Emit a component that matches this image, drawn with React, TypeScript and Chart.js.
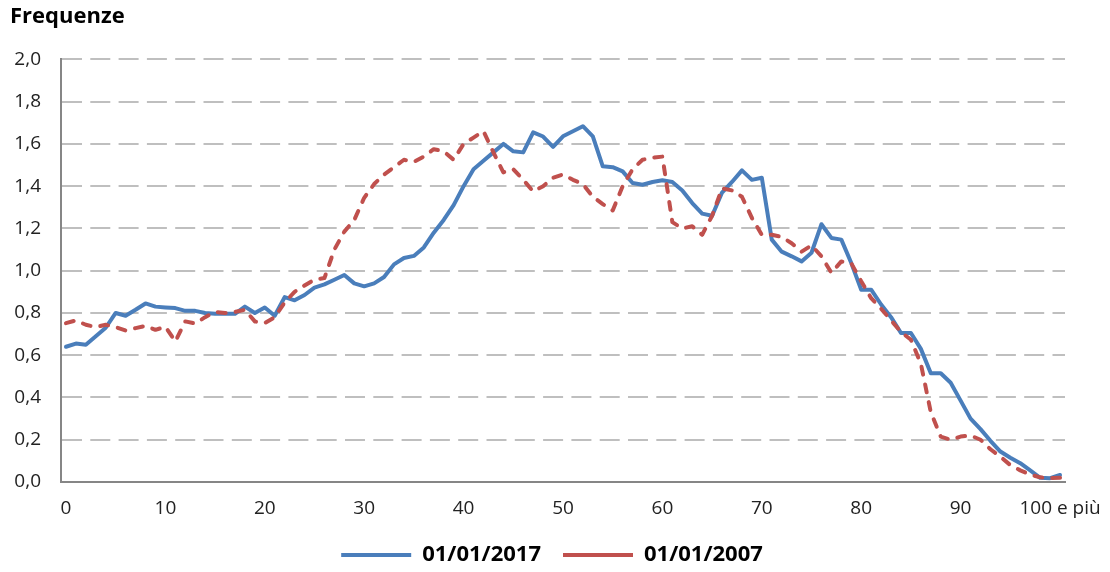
import React, { useEffect, useRef } from 'react';
import { Chart, registerables } from 'chart.js';

Chart.register(...registerables);

const titleText = 'Frequenze';
const seriesLabels = ['01/01/2017', '01/01/2007'];

const ages = [
  '0', '1', '2', '3', '4', '5', '6', '7', '8', '9',
  '10', '11', '12', '13', '14', '15', '16', '17', '18', '19',
  '20', '21', '22', '23', '24', '25', '26', '27', '28', '29',
  '30', '31', '32', '33', '34', '35', '36', '37', '38', '39',
  '40', '41', '42', '43', '44', '45', '46', '47', '48', '49',
  '50', '51', '52', '53', '54', '55', '56', '57', '58', '59',
  '60', '61', '62', '63', '64', '65', '66', '67', '68', '69',
  '70', '71', '72', '73', '74', '75', '76', '77', '78', '79',
  '80', '81', '82', '83', '84', '85', '86', '87', '88', '89',
  '90', '91', '92', '93', '94', '95', '96', '97', '98', '99',
  '100 e più',
];

const freq2017 = [
  0.64, 0.655, 0.65, 0.69, 0.73, 0.80, 0.787, 0.815, 0.845, 0.83,
  0.826, 0.823, 0.81, 0.81, 0.80, 0.796, 0.796, 0.796, 0.83, 0.80,
  0.826, 0.787, 0.875, 0.86, 0.885, 0.92, 0.935, 0.957, 0.98, 0.94,
  0.926, 0.94, 0.97, 1.03, 1.06, 1.07, 1.11, 1.18, 1.24, 1.31,
  1.40, 1.48, 1.52, 1.56, 1.60, 1.565, 1.56, 1.655, 1.635, 1.586,
  1.636, 1.66, 1.684, 1.636, 1.494, 1.49, 1.47, 1.415, 1.407, 1.42,
  1.428, 1.42, 1.38, 1.32, 1.27, 1.26, 1.37, 1.42, 1.475, 1.43,
  1.44, 1.147, 1.09, 1.068, 1.044, 1.085, 1.22, 1.155, 1.147, 1.036,
  0.91, 0.91, 0.84, 0.78, 0.705, 0.705, 0.63, 0.515, 0.515, 0.47,
  0.385, 0.30, 0.25, 0.195, 0.144, 0.115, 0.089, 0.055, 0.02, 0.018,
  0.033,
];

const freq2007 = [
  0.752, 0.765, 0.744, 0.733, 0.744, 0.733, 0.717, 0.728, 0.739, 0.72,
  0.735, 0.665, 0.76, 0.75, 0.78, 0.805, 0.80, 0.805, 0.815, 0.76,
  0.752, 0.78, 0.85, 0.90, 0.93, 0.958, 0.965, 1.10, 1.185, 1.24,
  1.345, 1.41, 1.455, 1.49, 1.525, 1.515, 1.54, 1.575, 1.565, 1.525,
  1.60, 1.63, 1.66, 1.56, 1.465, 1.48, 1.43, 1.375, 1.40, 1.44,
  1.455, 1.43, 1.41, 1.35, 1.315, 1.285, 1.40, 1.48, 1.525, 1.535,
  1.54, 1.23, 1.20, 1.21, 1.17, 1.26, 1.39, 1.38, 1.35, 1.25,
  1.17, 1.17, 1.16, 1.13, 1.09, 1.12, 1.068, 0.99, 1.044, 1.035,
  0.95, 0.87, 0.82, 0.765, 0.71, 0.673, 0.56, 0.33, 0.215, 0.20,
  0.215, 0.22, 0.20, 0.155, 0.12, 0.08, 0.055, 0.035, 0.022, 0.018,
  0.02,
];

const yMin = 0;
const yMax = 2;
const yStep = 0.2;
const xLabelEvery = 10;

const FONT = "'Open Sans', sans-serif";
const CANVAS_W = 1110;
const CANVAS_H = 572;
const PLOT_BOTTOM = 482;
const PAD_BOTTOM = -4;

export default function App() {
  const ref = useRef<HTMLCanvasElement>(null);

  useEffect(() => {
    if (!ref.current) return;
    const chart = new Chart(ref.current, {
      type: 'line',
      data: {
        labels: ages,
        datasets: [
          {
            label: seriesLabels[0],
            data: freq2017,
            borderColor: '#4A7EBB',
            backgroundColor: '#4A7EBB',
            borderWidth: 4,
            borderJoinStyle: 'round',
            borderCapStyle: 'round',
            pointRadius: 0,
            tension: 0,
            order: 1,
          },
          {
            label: seriesLabels[1],
            data: freq2007,
            borderColor: '#C0504D',
            backgroundColor: '#C0504D',
            borderWidth: 4,
            borderDash: [8, 10],
            borderJoinStyle: 'round',
            borderCapStyle: 'round',
            pointRadius: 0,
            tension: 0,
            order: 0,
          },
        ],
      },
      options: {
        responsive: false,
        animation: false,
        events: [],
        layout: { padding: { left: 10, right: 16, top: 0, bottom: PAD_BOTTOM } },
        plugins: {
          title: {
            display: true,
            text: titleText,
            align: 'start',
            color: '#000',
            font: { family: FONT, size: 22, weight: 'bold' },
            padding: { top: 4, bottom: 29 },
          },
          legend: {
            display: true,
            position: 'bottom',
            align: 'center',
            labels: {
              usePointStyle: true,
              pointStyle: 'line',
              pointStyleWidth: 70,
              padding: 22,
              color: '#000',
              font: { family: FONT, size: 22, weight: 'bold' },
              sort: (a: any, b: any) => a.datasetIndex - b.datasetIndex,
            },
          },
          tooltip: { enabled: false },
        },
        scales: {
          x: {
            type: 'category',
            offset: true,
            grid: { display: false, drawTicks: false },
            border: { display: true, color: '#868686', width: 2 },
            ticks: {
              autoSkip: false,
              maxRotation: 0,
              minRotation: 0,
              padding: 15,
              color: '#222',
              font: { family: FONT, size: 19 },
              callback: (_v: any, i: number) => (i % xLabelEvery === 0 ? ages[i] : null),
            },
            afterFit: (s: any) => {
              const lh = s.chart.legend ? s.chart.legend.height : 0;
              s.height = CANVAS_H - PAD_BOTTOM - lh - PLOT_BOTTOM;
              s.paddingLeft = 0;
              s.paddingRight = 0;
            },
          },
          y: {
            min: yMin,
            max: yMax,
            grid: { color: '#BFBFBF', lineWidth: 2, drawTicks: false },
            border: { display: true, color: '#868686', width: 2, dash: [20, 8.3] },
            ticks: {
              stepSize: yStep,
              padding: 20,
              color: '#222',
              font: { family: FONT, size: 19 },
              callback: (v: any) => Number(v).toFixed(1).replace('.', ','),
            },
            afterFit: (s: any) => {
              s.width = 51;
            },
          },
          yR: {
            type: 'linear',
            position: 'right',
            display: true,
            grid: { display: false, drawTicks: false },
            border: { display: false },
            ticks: { display: false },
            afterFit: (s: any) => {
              s.width = 29;
            },
          },
        },
      } as any,
    });
    return () => chart.destroy();
  }, []);

  return (
    <div style={{ position: 'absolute', left: 0, top: 0, width: CANVAS_W, height: CANVAS_H, background: '#fff' }}>
      <canvas ref={ref} width={CANVAS_W} height={CANVAS_H} style={{ display: 'block' }} />
    </div>
  );
}
